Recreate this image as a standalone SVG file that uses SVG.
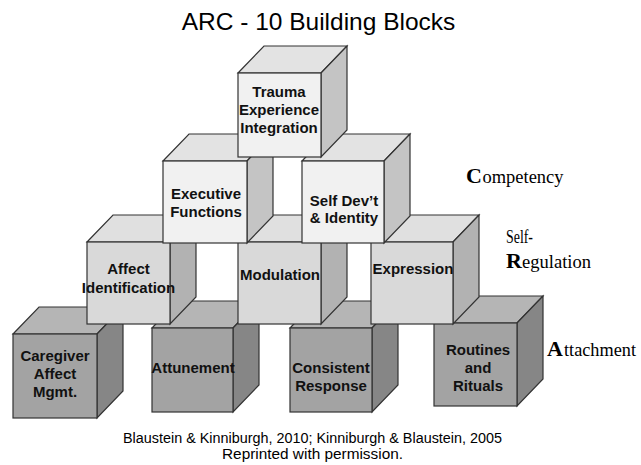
<svg xmlns="http://www.w3.org/2000/svg" width="641" height="465" viewBox="0 0 641 465">
<style>
  .e { stroke: #333; stroke-width: 1.2; stroke-linejoin: miter; }
  .r1 .f { fill: #f1f1f1; } .r1 .t { fill: #e3e3e3; } .r1 .s { fill: #c4c4c4; }
  .r3 .f { fill: #d9d9d9; } .r3 .t { fill: #e0e0e0; } .r3 .s { fill: #b2b2b2; }
  .r4 .f { fill: #a3a3a3; } .r4 .t { fill: #b5b5b5; } .r4 .s { fill: #868686; }
  .lbl { font-family: "Liberation Sans", Arial, sans-serif; font-weight: bold; font-size: 15px; fill: #111; text-anchor: middle; }
  .title { font-family: "Liberation Sans", Arial, sans-serif; font-size: 24.5px; fill: #000; text-anchor: middle; }
  .foot { font-family: "Liberation Sans", Arial, sans-serif; font-size: 14px; fill: #000; }
  .big { font-family: "Liberation Serif", "Times New Roman", serif; font-weight: bold; font-size: 22px; fill: #000; }
  .sm { font-family: "Liberation Serif", "Times New Roman", serif; font-size: 19px; fill: #000; }
</style>

<text class="title" x="318.5" y="30">ARC - 10 Building Blocks</text>

<!-- Row 4 (Attachment) -->
<g id="caregiver" class="r4">
  <polygon class="e t" points="13,334 39,307 123,307 97,334"/>
  <polygon class="e s" points="97,334 123,307 123,391 97,418"/>
  <rect class="e f" x="13" y="334" width="84" height="84"/>
  <text class="lbl" x="55" y="361">Caregiver</text>
  <text class="lbl" x="55" y="379">Affect</text>
  <text class="lbl" x="55" y="397">Mgmt.</text>
</g>
<g id="attunement" class="r4">
  <polygon class="e t" points="152,328 178,301 259,301 233,328"/>
  <polygon class="e s" points="233,328 259,301 259,385 233,412"/>
  <rect class="e f" x="152" y="328" width="81" height="84"/>
  <text class="lbl" x="193" y="373">Attunement</text>
</g>
<g id="consistent" class="r4">
  <polygon class="e t" points="290,328 316,301 398,301 372,328"/>
  <polygon class="e s" points="372,328 398,301 398,385 372,412"/>
  <rect class="e f" x="290" y="328" width="82" height="84"/>
  <text class="lbl" x="331" y="373">Consistent</text>
  <text class="lbl" x="331" y="391">Response</text>
</g>
<g id="routines" class="r4">
  <polygon class="e t" points="434,323 460,296 543,296 517,323"/>
  <polygon class="e s" points="517,323 543,296 543,379 517,406"/>
  <rect class="e f" x="434" y="323" width="83" height="83"/>
  <text class="lbl" x="478" y="355">Routines</text>
  <text class="lbl" x="478" y="373">and</text>
  <text class="lbl" x="478" y="391">Rituals</text>
</g>

<!-- Row 3 (Self-Regulation) -->
<g id="affect" class="r3">
  <polygon class="e t" points="87,242 113,215 196,215 170,242"/>
  <polygon class="e s" points="170,242 196,215 196,297 170,324"/>
  <rect class="e f" x="87" y="242" width="83" height="82"/>
  <text class="lbl" x="128.5" y="274">Affect</text>
  <text class="lbl" x="128.5" y="293">Identification</text>
</g>
<g id="modulation" class="r3">
  <polygon class="e t" points="238,242 264,215 347,215 321,242"/>
  <polygon class="e s" points="321,242 347,215 347,297 321,324"/>
  <rect class="e f" x="238" y="242" width="83" height="82"/>
  <text class="lbl" x="280" y="280">Modulation</text>
</g>
<g id="expression" class="r3">
  <polygon class="e t" points="371,242 397,215 479,215 453,242"/>
  <polygon class="e s" points="453,242 479,215 479,297 453,324"/>
  <rect class="e f" x="371" y="242" width="82" height="82"/>
  <text class="lbl" x="413" y="274">Expression</text>
</g>

<!-- Row 2 (Competency) -->
<g id="executive" class="r1">
  <polygon class="e t" points="163,161 189,134 273,134 247,161"/>
  <polygon class="e s" points="247,161 273,134 273,216 247,243"/>
  <rect class="e f" x="163" y="161" width="84" height="82"/>
  <text class="lbl" x="206" y="199">Executive</text>
  <text class="lbl" x="206" y="217">Functions</text>
</g>
<g id="selfdev" class="r1">
  <polygon class="e t" points="302,161 328,134 410,134 384,161"/>
  <polygon class="e s" points="384,161 410,134 410,216 384,243"/>
  <rect class="e f" x="302" y="161" width="82" height="82"/>
  <text class="lbl" x="344" y="206">Self Dev’t</text>
  <text class="lbl" x="344" y="223">&amp; Identity</text>
</g>

<!-- Top -->
<g id="trauma" class="r1">
  <polygon class="e t" points="238,73 264,46 347,46 321,73"/>
  <polygon class="e s" points="321,73 347,46 347,130 321,157"/>
  <rect class="e f" x="238" y="73" width="83" height="84"/>
  <text class="lbl" x="279" y="97">Trauma</text>
  <text class="lbl" x="279" y="115">Experience</text>
  <text class="lbl" x="279" y="133">Integration</text>
</g>

<!-- Side labels -->
<g id="lbl-competency">
  <text class="big" x="466" y="183">C</text>
  <text class="sm" x="482.5" y="183" textLength="81" lengthAdjust="spacingAndGlyphs">ompetency</text>
</g>
<g id="lbl-selfreg">
  <text class="sm" x="506" y="243" textLength="27" lengthAdjust="spacingAndGlyphs">Self-</text>
  <text class="big" x="506" y="268">R</text>
  <text class="sm" x="522" y="268" textLength="69" lengthAdjust="spacingAndGlyphs">egulation</text>
</g>
<g id="lbl-attachment">
  <text class="big" x="547" y="356">A</text>
  <text class="sm" x="564" y="356" textLength="72" lengthAdjust="spacingAndGlyphs">ttachment</text>
</g>

<text class="foot" x="123" y="443" textLength="379" lengthAdjust="spacingAndGlyphs">Blaustein &amp; Kinniburgh, 2010; Kinniburgh &amp; Blaustein, 2005</text>
<text class="foot" x="222" y="459" textLength="181" lengthAdjust="spacingAndGlyphs">Reprinted with permission.</text>
</svg>
